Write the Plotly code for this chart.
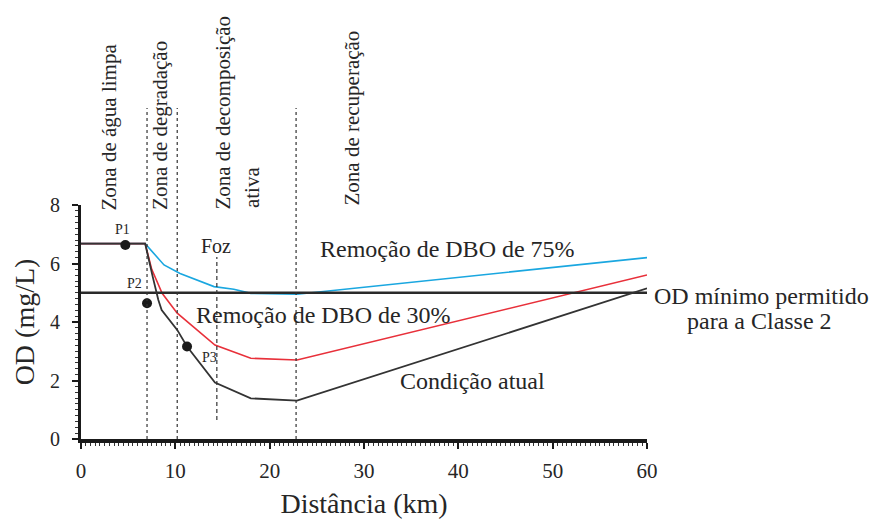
import plotly.graph_objects as go

# ---- data ----
dist_atual = [0, 6.8, 7.6, 8.2, 8.55, 10.2, 11.24, 14.2, 18.0, 22.9, 60]
od_atual = [6.68, 6.68, 5.55, 4.75, 4.41, 3.73, 3.16, 1.93, 1.39, 1.31, 5.15]

dist_30 = [0, 6.8, 7.5, 8.6, 10.2, 14.2, 18.0, 22.9, 60]
od_30 = [6.68, 6.68, 5.8, 4.98, 4.30, 3.21, 2.76, 2.70, 5.61]

dist_75 = [0, 6.8, 8.8, 10.5, 14.1, 16.2, 18.0, 22.9, 60]
od_75 = [6.68, 6.68, 5.95, 5.66, 5.21, 5.12, 4.98, 4.95, 6.2]

od_minimo = 5.0
dist_limits = [0, 60]

pontos_x = [4.7, 7.0, 11.24]
pontos_y = [6.63, 4.64, 3.16]
pontos_labels = ["P1", "P2", "P3"]

zone_limits_km = [7.0, 10.2, 22.8]
foz_km = 14.4

x_ticks = [0, 10, 20, 30, 40, 50, 60]
y_ticks = [0, 2, 4, 6, 8]

FONT = "Liberation Serif, Times New Roman, DejaVu Serif, serif"
TXT = "#262626"

fig = go.Figure()

fig.add_trace(go.Scatter(x=dist_75, y=od_75, mode="lines",
                         line=dict(color="#1AA7E0", width=1.6), showlegend=False))
fig.add_trace(go.Scatter(x=dist_30, y=od_30, mode="lines",
                         line=dict(color="#E8303A", width=1.6), showlegend=False))
fig.add_trace(go.Scatter(x=dist_limits, y=[od_minimo, od_minimo], mode="lines",
                         line=dict(color="#2a2a2a", width=2.6), showlegend=False))
fig.add_trace(go.Scatter(x=dist_atual, y=od_atual, mode="lines",
                         line=dict(color="#333333", width=1.8), showlegend=False))
fig.add_trace(go.Scatter(x=pontos_x, y=pontos_y, mode="markers",
                         marker=dict(color="#1a1a1a", size=10), showlegend=False,
                         cliponaxis=False))

# zone boundaries (dotted, extending above the plot)
for xk in zone_limits_km:
    fig.add_shape(type="line", xref="x", yref="paper", x0=xk, x1=xk, y0=0, y1=1.4145,
                  line=dict(color="#333333", width=1.2, dash="dot"))
# Foz (dashed)
fig.add_shape(type="line", xref="x", yref="y", x0=foz_km, x1=foz_km, y0=0.65, y1=6.22,
              line=dict(color="#333333", width=1.2, dash="4px,3px"))

ann = []
def add_text(text, x, y, size, xref="x", yref="y", angle=0, xanchor="center"):
    ann.append(dict(text=text, x=x, y=y, xref=xref, yref=yref, showarrow=False,
                    textangle=angle, xanchor=xanchor, yanchor="middle",
                    font=dict(family=FONT, size=size, color=TXT)))

add_text("Remoção de DBO de 75%", 38.85, 6.50, 24)
add_text("Remoção de DBO de 30%", 25.7, 4.24, 24)
add_text("Condição atual", 41.45, 1.98, 24)
add_text("Foz", 14.31, 6.60, 20)
for lx, ly, lt in zip([4.35, 5.72, 13.57], [7.15, 5.30, 2.80], pontos_labels):
    add_text(lt, lx, ly, 14)
add_text("OD mínimo permitido", 1.0088, 4.88, 24, xref="paper", xanchor="left")
add_text("para a Classe 2", 1.198, 4.05, 24, xref="paper")

add_text("Zona de água limpa", 3.07, 1.3355, 21, yref="paper", angle=-90)
add_text("Zona de degradação", 8.37, 1.342, 21, yref="paper", angle=-90)
add_text("Zona de decomposição", 15.05, 1.395, 21, yref="paper", angle=-90)
add_text("ativa", 18.13, 1.0726, 21, yref="paper", angle=-90)
add_text("Zona de recuperação", 28.73, 1.3697, 21, yref="paper", angle=-90)

fig.update_layout(
    width=877, height=519,
    margin=dict(l=81, r=230, t=205, b=80, pad=0, autoexpand=False),
    paper_bgcolor="white", plot_bgcolor="white",
    font=dict(family=FONT, color=TXT),
    annotations=ann,
    showlegend=False,
)

fig.update_xaxes(
    range=[0, 60], tickvals=x_ticks, ticktext=[str(v) for v in x_ticks],
    automargin=False,
    showgrid=False, zeroline=False, showline=True, linecolor="#1a1a1a", linewidth=3.5,
    ticks="outside", ticklen=6, tickwidth=1.5, tickcolor="#1a1a1a",
    tickfont=dict(family=FONT, size=21, color=TXT), ticklabelstandoff=4,
    minor=dict(ticks="outside", ticklen=3, dtick=0.5, tickcolor="#333333", tickwidth=1),
    title=dict(text="Distância (km)", font=dict(family=FONT, size=28, color=TXT), standoff=12),
)
fig.update_yaxes(
    range=[0, 8], tickvals=y_ticks, ticktext=[str(v) for v in y_ticks],
    automargin=False,
    showgrid=False, zeroline=False, showline=True, linecolor="#1a1a1a", linewidth=3,
    ticks="outside", ticklen=6, tickwidth=1.5, tickcolor="#1a1a1a",
    tickfont=dict(family=FONT, size=20, color=TXT), ticklabelstandoff=8,
    minor=dict(ticks="outside", ticklen=3, dtick=0.2, tickcolor="#333333", tickwidth=1),
    title=dict(text="OD (mg/L)", font=dict(family=FONT, size=28, color=TXT), standoff=8),
)

fig.write_html("out.html",
               config={"displayModeBar": False},
               post_script="document.body.style.margin='0px';document.body.style.overflow='hidden';")
